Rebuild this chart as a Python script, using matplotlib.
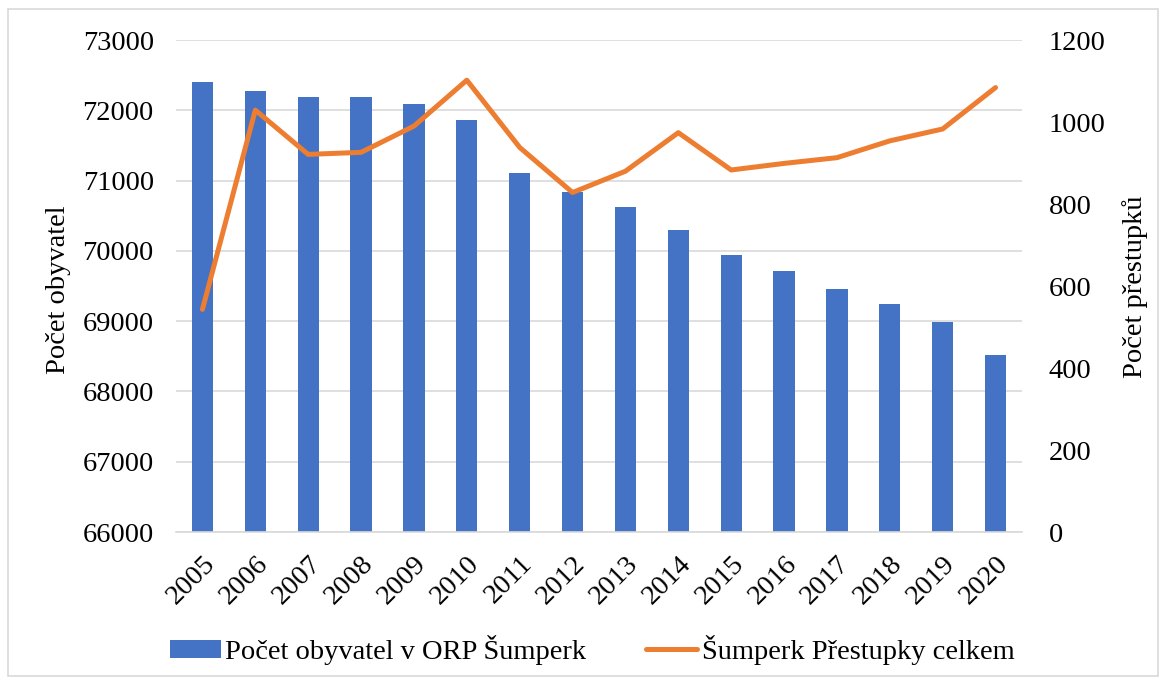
import numpy as np
import matplotlib.pyplot as plt
from matplotlib.patches import Rectangle

plt.rcParams['font.family'] = ['Liberation Serif', 'DejaVu Serif']

years = [str(y) for y in range(2005, 2021)]
obyvatele = [72406, 72270, 72184, 72193, 72085, 71861, 71112, 70837,
             70624, 70292, 69941, 69709, 69452, 69244, 68988, 68513]
prestupky = [543, 1029, 921, 926, 990, 1102, 938, 828,
             880, 974, 883, 899, 913, 954, 983, 1084]

blue = '#4472C4'
orange = '#ED7D31'
grid = '#d9d9d9'
fs = 20.5

fig = plt.figure(figsize=(11.64, 6.84), dpi=100)
ax = fig.add_axes([176 / 1164, 1 - 532 / 684, (1022 - 176) / 1164, (532 - 40) / 684])
x = np.arange(len(years))

ax.bar(x, obyvatele, width=0.4, color=blue, zorder=2, label='Počet obyvatel v ORP Šumperk')
ax.set_ylim(66000, 73000)
ax.set_yticks(np.arange(66000, 73001, 1000))
ax.set_xlim(-0.5, len(years) - 0.5)
ax.set_xticks(x)
ax.set_xticklabels(years, rotation=45, ha='right', rotation_mode='anchor', fontsize=fs)
ax.yaxis.grid(True, color=grid, linewidth=1.2, zorder=0)
ax.set_axisbelow(True)
ax.tick_params(axis='both', length=0, labelsize=fs)
ax.tick_params(axis='y', pad=16)
ax.tick_params(axis='x', pad=14)
for s in ['top', 'right', 'left']:
    ax.spines[s].set_visible(False)
ax.spines['bottom'].set_color(grid)
ax.spines['bottom'].set_linewidth(1.2)
ax.set_ylabel('Počet obyvatel', fontsize=fs)

ax2 = ax.twinx()
ax2.plot(x, prestupky, color=orange, linewidth=3.6, solid_capstyle='round',
         zorder=3, label='Šumperk Přestupky celkem')
ax2.set_ylim(0, 1200)
ax2.set_yticks(np.arange(0, 1201, 200))
ax2.tick_params(axis='y', length=0, labelsize=fs, pad=19)
for s in ax2.spines.values():
    s.set_visible(False)
ax2.set_ylabel('Počet přestupků', fontsize=fs)
ax2.yaxis.set_label_coords(1122 / 1164, 1 - 287 / 684, transform=fig.transFigure)
ax.yaxis.set_label_coords(71 / 1164, 1 - 290 / 684, transform=fig.transFigure)

h1, l1 = ax.get_legend_handles_labels()
h2, l2 = ax2.get_legend_handles_labels()
fig.legend(h1 + h2, l1 + l2, loc='center', bbox_to_anchor=(592 / 1164, 1 - 650 / 684),
           ncol=2, frameon=False, fontsize=fs, handlelength=1.8, handleheight=0.6,
           handletextpad=0.15, columnspacing=2.1)

fig.patches.append(Rectangle((8 / 1164, 8 / 684), 1150 / 1164, 667 / 684,
                             transform=fig.transFigure, fill=False,
                             edgecolor=grid, linewidth=1.2))

fig.savefig('out.png', dpi=100)
